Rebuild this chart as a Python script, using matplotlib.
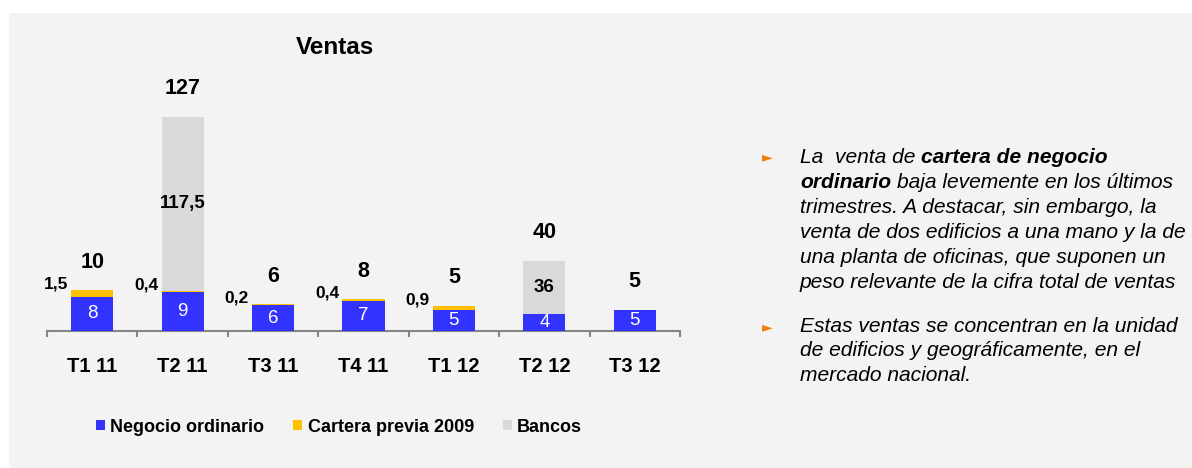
import matplotlib
matplotlib.use('Agg')
import matplotlib.pyplot as plt
from matplotlib.patches import Rectangle, Patch
import numpy as np

categories = ['T1 11', 'T2 11', 'T3 11', 'T4 11', 'T1 12', 'T2 12', 'T3 12']
negocio = [8, 9, 6, 7, 5, 4, 5]
cartera = [1.5, 0.4, 0.2, 0.4, 0.9, 0, 0]
bancos = [0, 117.5, 0, 0, 0, 36, 0]
totales = [10, 127, 6, 8, 5, 40, 5]
cartera_labels = ['1,5', '0,4', '0,2', '0,4', '0,9', '', '']
bancos_labels = ['', '117,5', '', '', '', '36', '']
series_names = ['Negocio ordinario', 'Cartera previa 2009', 'Bancos']
title = 'Ventas'

bullet1 = [
    [("La  venta de", False), ("cartera de negocio", True)],
    [("ordinario", True), ("baja levemente en los últimos", False)],
    [("trimestres. A destacar, sin embargo, la", False)],
    [("venta de dos edificios a una mano y la de", False)],
    [("una planta de oficinas, que suponen un", False)],
    [("peso relevante de la cifra total de ventas", False)],
]
bullet2 = [
    [("Estas ventas se concentran en la unidad", False)],
    [("de edificios y geográficamente, en el", False)],
    [("mercado nacional.", False)],
]

# the original chart draws the Bancos series compressed relative to the others
BANCOS_SCALE = 0.344

C_BLUE = '#3333FF'
C_YEL = '#FFC000'
C_GRAY = '#D9D9D9'
C_AXIS = '#868686'

W, H = 1192, 468
plt.rcParams['font.family'] = ['Liberation Sans', 'DejaVu Sans']
fig = plt.figure(figsize=(W / 100, H / 100), dpi=100)


def fx(px):
    return px / W


def fy(py):
    return 1 - py / H


PX = 0.72  # points per pixel

fig.patches.append(Rectangle((fx(9), 0), 1 - fx(9), fy(13), transform=fig.transFigure,
                             facecolor='#f3f3f3', edgecolor='none', zorder=-5))

ax = fig.add_axes([fx(47), fy(331), fx(680) - fx(47), fy(60) - fy(331)])
ax.set_facecolor('none')
x = np.arange(len(categories))
ax.set_xlim(-0.5, len(categories) - 0.5)
ax.set_ylim(0, (331 - 60) / 4.3)
bw = 0.465

neg = np.array(negocio, float)
car = np.array(cartera, float)
ban = np.array(bancos, float) * BANCOS_SCALE

ax.bar(x, neg, bw, color=C_BLUE, zorder=3)
ax.bar(x, car, bw, bottom=neg, color=C_YEL, zorder=3)
ax.bar(x, ban, bw, bottom=neg + car, color=C_GRAY, zorder=3)

tops = neg + car + ban
for i in range(len(categories)):
    ax.text(x[i], neg[i] / 2, str(negocio[i]), ha='center', va='center',
            color='white', fontsize=13.5, zorder=4)
    ax.annotate(str(totales[i]), (x[i], tops[i]), xytext=(0, 28 * PX),
                textcoords='offset points', ha='center', va='center',
                fontsize=15.5, fontweight='bold', annotation_clip=False)
    if cartera_labels[i]:
        ax.annotate(cartera_labels[i], (x[i] - bw / 2, neg[i] + car[i]),
                    xytext=(-3 * PX, 6 * PX), textcoords='offset points',
                    ha='right', va='center', fontsize=12.5, fontweight='bold',
                    annotation_clip=False)
    if bancos_labels[i]:
        ax.text(x[i], neg[i] + car[i] + ban[i] / 2, bancos_labels[i],
                ha='center', va='center', fontsize=13.5, fontweight='bold', zorder=4)

ax.set_xticks(x)
ax.set_xticklabels(categories, fontsize=14.5, fontweight='bold')
ax.set_xticks(np.arange(-0.5, len(categories), 1), minor=True)
ax.tick_params(axis='x', which='major', length=0, pad=19)
ax.tick_params(axis='x', which='minor', length=4.5, width=1.5, color=C_AXIS, direction='out')
ax.set_yticks([])
for s in ['left', 'top', 'right']:
    ax.spines[s].set_visible(False)
ax.spines['bottom'].set_color(C_AXIS)
ax.spines['bottom'].set_linewidth(1.5)

fig.text(fx(334.5), fy(47.5), title, ha='center', va='center',
         fontsize=17.5, fontweight='bold')

handles = [Patch(facecolor=c, edgecolor='none') for c in (C_BLUE, C_YEL, C_GRAY)]
fig.legend(handles, series_names, loc='center', bbox_to_anchor=(fx(339), fy(427)),
           ncol=3, frameon=False, prop={'weight': 'bold', 'size': 13},
           handlelength=0.5, handleheight=0.5, handletextpad=0.3, columnspacing=1.6)

# right-hand text
FS = 15.1
space_pt = 0.278 * FS


def draw_line(segs, x0, ybase):
    prev = None
    for txt, bold in segs:
        kw = dict(fontsize=FS, fontstyle='italic',
                  fontweight='bold' if bold else 'normal', color='black')
        if prev is None:
            prev = fig.text(fx(x0), fy(ybase), txt, ha='left', va='baseline', **kw)
        else:
            ann = matplotlib.text.Annotation(txt, xy=(1, 0), xycoords=prev,
                                             xytext=(space_pt, 0), textcoords='offset points',
                                             ha='left', va='bottom', annotation_clip=False, **kw)
            fig.add_artist(ann)
            prev = ann


b1 = [162.7, 187.8, 212.9, 238.0, 263.0, 288.0]
b2 = [331.7, 356.5, 381.0]
for segs, yb in zip(bullet1, b1):
    draw_line(segs, 800, yb)
for segs, yb in zip(bullet2, b2):
    draw_line(segs, 800, yb)
for yc in (157.3, 326.7):
    fig.text(fx(767), fy(yc), '►', ha='center', va='center', fontsize=10,
             color='#F07F09', family='DejaVu Sans')

fig.savefig('out.png', dpi=100)
